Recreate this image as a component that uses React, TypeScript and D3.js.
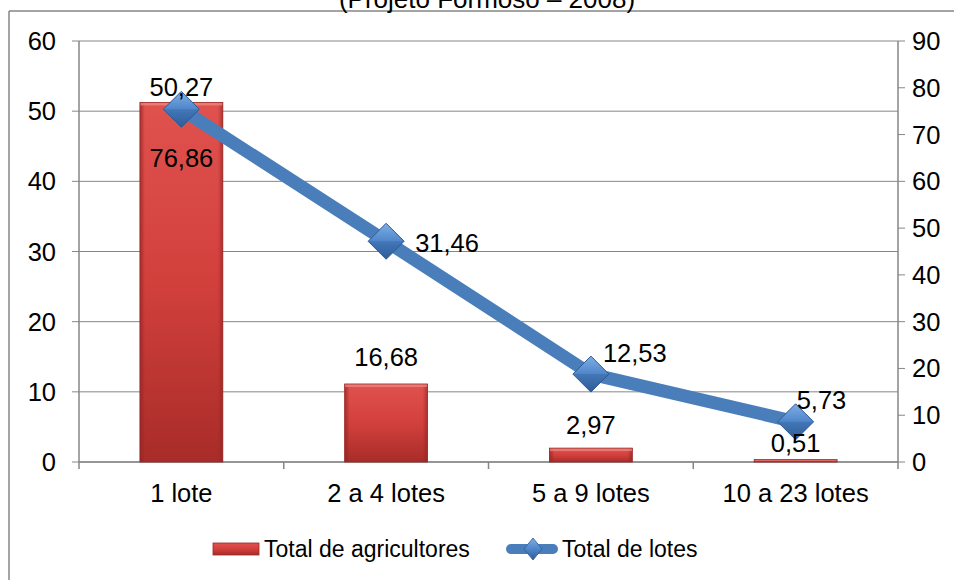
import React from "react";
import * as d3 from "d3";

const categories = ["1 lote", "2 a 4 lotes", "5 a 9 lotes", "10 a 23 lotes"];
const agricultores = [76.86, 16.68, 2.97, 0.51];
const lotes = [50.27, 31.46, 12.53, 5.73];
const leftTicks = [0, 10, 20, 30, 40, 50, 60];
const rightTicks = [0, 10, 20, 30, 40, 50, 60, 70, 80, 90];
const title = "(Projeto Formoso – 2008)";
const seriesNames = ["Total de agricultores", "Total de lotes"];

const W = 954;
const H = 580;
const PL = 79;
const PR = 898;
const PT = 41;
const PB = 462;
const FONT = "Liberation Sans, Arial, sans-serif";
const FS = 25.5;
const FSL = 23;
const AX = "#868686";

const fmt = (v: number) => v.toFixed(2).replace(".", ",");

export default function App() {
  const x = d3.scaleBand<string>().domain(categories).range([PL, PR]).padding(0);
  const yL = d3.scaleLinear().domain([0, 60]).range([PB, PT]);
  const yR = d3.scaleLinear().domain([0, 90]).range([PB, PT]);
  const bw = x.bandwidth() * 0.405;
  const cx = (c: string) => (x(c) as number) + x.bandwidth() / 2;

  const line = d3
    .line<number>()
    .x((_, i) => cx(categories[i]))
    .y((d) => yL(d));

  const diamond = (px: number, py: number, r: number) =>
    `M${px},${py - r}L${px + r},${py}L${px},${py + r}L${px - r},${py}Z`;

  const barLabelPos = (i: number) => {
    const top = yR(agricultores[i]);
    if (i === 0) return top + 65;
    const off = [0, 18, 14, 8][i];
    return top - off;
  };
  const lineLabelPos = (i: number) => {
    const px = cx(categories[i]);
    const py = yL(lotes[i]);
    if (i === 0) return { x: px, y: py - 13, a: "middle" };
    const dx = [0, 29, 12, 1][i];
    const dy = [0, 11, -12, -13][i];
    return { x: px + dx, y: py + dy, a: "start" };
  };

  return (
    <svg
      width={W}
      height={H}
      style={{ position: "absolute", left: 0, top: 0, background: "#fff" }}
      fontFamily={FONT}
    >
      <defs>
        <linearGradient id="barG" x1="0" y1="0" x2="0" y2="1">
          <stop offset="0" stopColor="#e0524e" />
          <stop offset="0.5" stopColor="#d2403c" />
          <stop offset="1" stopColor="#a82c29" />
        </linearGradient>
        <linearGradient id="barEdgeL" x1="0" y1="0" x2="1" y2="0">
          <stop offset="0" stopColor="#8e2220" stopOpacity="0.7" />
          <stop offset="1" stopColor="#8e2220" stopOpacity="0" />
        </linearGradient>
        <linearGradient id="barEdgeR" x1="1" y1="0" x2="0" y2="0">
          <stop offset="0" stopColor="#8e2220" stopOpacity="0.6" />
          <stop offset="1" stopColor="#8e2220" stopOpacity="0" />
        </linearGradient>
        <linearGradient id="diaG" x1="0" y1="0" x2="0" y2="1">
          <stop offset="0" stopColor="#7eaee6" />
          <stop offset="0.5" stopColor="#4f86c9" />
          <stop offset="1" stopColor="#2f5d98" />
        </linearGradient>
      </defs>

      {/* outer frame */}
      <line x1={9} y1={11} x2={W} y2={11} stroke={AX} strokeWidth={1.5} />
      <line x1={9} y1={11} x2={9} y2={H} stroke={AX} strokeWidth={1.5} />

      {/* title (partly cut off at the top, as in the reference) */}
      <text x={487} y={8} fontSize={26} textAnchor="middle" fill="#000">
        {title}
      </text>

      {leftTicks.map((t) => (
        <g key={"l" + t}>
          <line x1={PL - 7} x2={PR} y1={yL(t)} y2={yL(t)} stroke={AX} strokeWidth={1} />
          <text x={56} y={yL(t) + 9} fontSize={FS} textAnchor="end" fill="#000">
            {t}
          </text>
        </g>
      ))}
      {rightTicks.map((t) => (
        <g key={"r" + t}>
          <line x1={PR} x2={PR + 7} y1={yR(t)} y2={yR(t)} stroke={AX} strokeWidth={1} />
          <text x={912} y={yR(t) + 9} fontSize={FS} textAnchor="start" fill="#000">
            {t}
          </text>
        </g>
      ))}
      <line x1={PL} x2={PL} y1={PT} y2={PB} stroke={AX} strokeWidth={1.5} />
      <line x1={PR} x2={PR} y1={PT} y2={PB} stroke={AX} strokeWidth={1.5} />
      <line x1={PL} x2={PR} y1={PB} y2={PB} stroke={AX} strokeWidth={1.5} />
      {categories.map((c) => (
        <line key={"ct" + c} x1={x(c)} x2={x(c)} y1={PB} y2={PB + 7} stroke={AX} strokeWidth={1.5} />
      ))}
      <line x1={PR} x2={PR} y1={PB} y2={PB + 7} stroke={AX} strokeWidth={1.5} />

      {/* bars */}
      {categories.map((c, i) => {
        const bx = cx(c) - bw / 2;
        const by = yR(agricultores[i]);
        const bh = PB - by;
        const e = Math.min(5, bh / 2);
        return (
          <g key={"b" + c}>
            <rect x={bx} y={by} width={bw} height={bh} fill="url(#barG)" />
            <rect x={bx} y={by} width={e} height={bh} fill="url(#barEdgeL)" />
            <rect x={bx + bw - e} y={by} width={e} height={bh} fill="url(#barEdgeR)" />
            <rect x={bx} y={by} width={bw} height={Math.min(3, bh / 2)} fill="#f08a86" opacity={0.7} />
            <rect x={bx} y={by} width={bw} height={bh} fill="none" stroke="#9a2a27" strokeWidth={0.8} />
          </g>
        );
      })}

      {/* line */}
      <path d={line(lotes) || ""} fill="none" stroke="#4a7ebb" strokeWidth={13} strokeLinejoin="round" />
      {lotes.map((v, i) => {
        const px = cx(categories[i]);
        const py = yL(v);
        return (
          <g key={"m" + i}>
            <path d={diamond(px, py, 18)} fill="url(#diaG)" stroke="#2c5a91" strokeWidth={1} />
            <path d={`M${px - 18},${py}L${px + 18},${py}L${px},${py + 18}Z`} fill="#2f5d98" opacity={0.35} />
          </g>
        );
      })}

      {categories.map((c, i) => (
        <text key={"bl" + c} x={cx(c)} y={barLabelPos(i)} fontSize={FS} textAnchor="middle" fill="#000">
          {fmt(agricultores[i])}
        </text>
      ))}
      {lotes.map((v, i) => {
        const p = lineLabelPos(i);
        return (
          <text key={"ll" + i} x={p.x} y={p.y} fontSize={FS} textAnchor={p.a as any} fill="#000">
            {fmt(v)}
          </text>
        );
      })}

      {categories.map((c) => (
        <text key={"cl" + c} x={cx(c)} y={502} fontSize={FS} textAnchor="middle" fill="#000">
          {c}
        </text>
      ))}

      {/* legend */}
      <rect x={213} y={543} width={46} height={12} fill="url(#barG)" stroke="#9a2a27" strokeWidth={0.8} />
      <text x={264} y={557} fontSize={FSL} fill="#000">
        {seriesNames[0]}
      </text>
      <line x1={511} x2={553} y1={549} y2={549} stroke="#4a7ebb" strokeWidth={10} strokeLinecap="round" />
      <path d="M533,538L542,549L533,560L524,549Z" fill="url(#diaG)" stroke="#2c5a91" strokeWidth={0.8} />
      <text x={562} y={557} fontSize={FSL} fill="#000">
        {seriesNames[1]}
      </text>
    </svg>
  );
}
